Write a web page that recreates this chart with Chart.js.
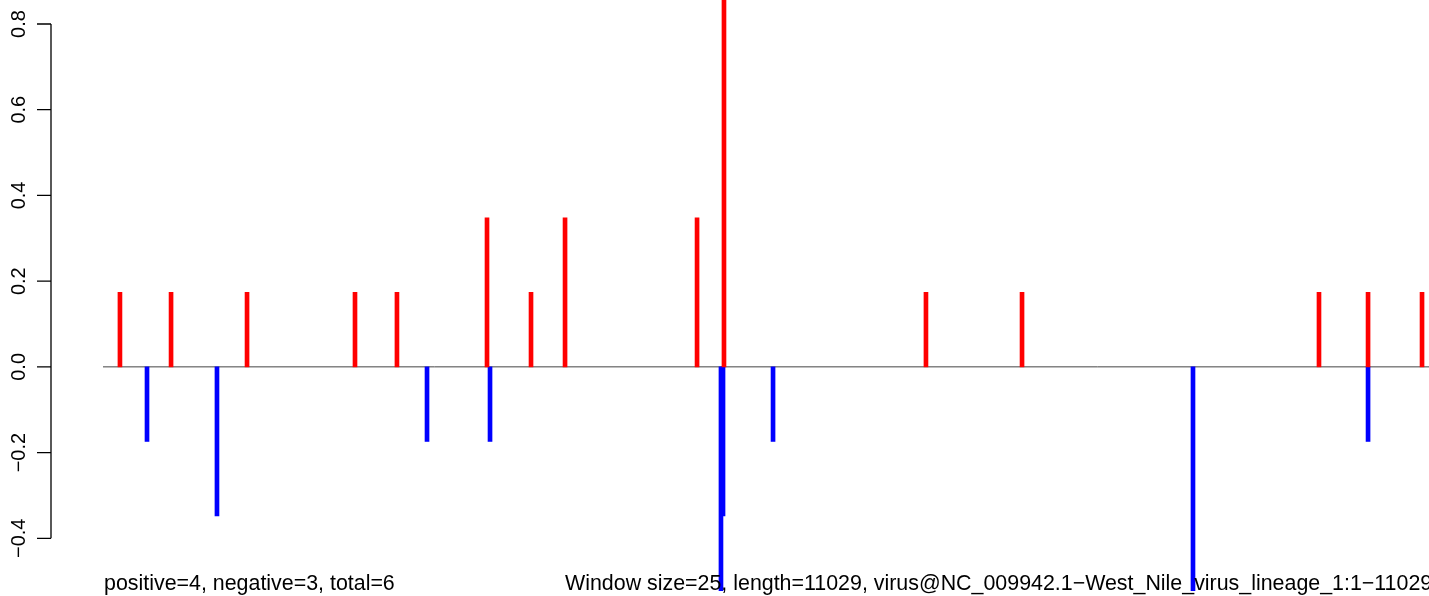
<!DOCTYPE html>
<html>
<head>
<meta charset="utf-8">
<script src="https://cdn.jsdelivr.net/npm/chart.js@4"></script>
<style>
  body { margin: 0; background: #fff; }
  canvas { display: block; }
</style>
</head>
<body>
<canvas id="myChart" width="1429" height="596"></canvas>
<script>
// positions along the genome (1..11029) and window scores
var redX = [141, 566, 1198, 2096, 2445, 3194, 3560, 3843, 4941, 5165, 6845, 7644, 10114, 10522, 10971];
var redY = [0.174, 0.174, 0.174, 0.174, 0.174, 0.348, 0.174, 0.348, 0.348, 0.87, 0.174, 0.174, 0.174, 0.174, 0.174];
var blueX = [366, 948, 2695, 3219, 5140, 5157, 5573, 9066, 10522];
var blueY = [-0.174, -0.348, -0.174, -0.174, -0.522, -0.348, -0.174, -0.522, -0.174];

var yTicks = [-0.4, -0.2, 0, 0.2, 0.4, 0.6, 0.8];
var yTickLabels = ['\u22120.4', '\u22120.2', '0.0', '0.2', '0.4', '0.6', '0.8'];

var leftNote = 'positive=4, negative=3, total=6';
var rightNote = 'Window size=25, length=11029, virus@NC_009942.1\u2212West_Nile_virus_lineage_1:1\u221211029';

function toPoints(xs, ys) {
    var pts = [];
    for (var i = 0; i < xs.length; i++) {
        pts.push({ x: xs[i], y: ys[i] });
    }
    return pts;
}

var TICK_FONT = '20px "Liberation Sans", Arial, sans-serif';
var NOTE_FONT = '21.4px "Liberation Sans", Arial, sans-serif';

var rPlot = {
    id: 'rPlot',
    beforeDatasetsDraw: function (chart) {
        var ctx = chart.ctx;
        var y0 = chart.scales.y.getPixelForValue(0);
        ctx.save();
        ctx.strokeStyle = '#444444';
        ctx.lineWidth = 1;
        ctx.beginPath();
        ctx.moveTo(chart.chartArea.left, y0);
        ctx.lineTo(chart.chartArea.right, y0);
        ctx.stroke();
        ctx.restore();
    },
    afterDraw: function (chart) {
        var ctx = chart.ctx;
        var ys = chart.scales.y;
        var axisX = 51;
        ctx.save();
        ctx.strokeStyle = '#000';
        ctx.lineWidth = 1.3;
        ctx.beginPath();
        ctx.moveTo(axisX, ys.getPixelForValue(yTicks[0]));
        ctx.lineTo(axisX, ys.getPixelForValue(yTicks[yTicks.length - 1]));
        for (var i = 0; i < yTicks.length; i++) {
            var py = ys.getPixelForValue(yTicks[i]);
            ctx.moveTo(37, py);
            ctx.lineTo(axisX, py);
        }
        ctx.stroke();

        ctx.fillStyle = '#000';
        ctx.font = TICK_FONT;
        for (var j = 0; j < yTicks.length; j++) {
            ctx.save();
            ctx.translate(24.5, ys.getPixelForValue(yTicks[j]));
            ctx.rotate(-Math.PI / 2);
            ctx.textAlign = 'center';
            ctx.textBaseline = 'alphabetic';
            ctx.fillText(yTickLabels[j], 0, 0);
            ctx.restore();
        }

        ctx.font = NOTE_FONT;
        ctx.textAlign = 'left';
        ctx.textBaseline = 'alphabetic';
        ctx.fillText(leftNote, 104, 590);
        ctx.fillText(rightNote, 565, 590);
        ctx.restore();
    }
};

var ctx = document.getElementById('myChart').getContext('2d');
var mychart = new Chart(ctx, {
    type: 'bar',
    data: {
        datasets: [{
            label: 'positive',
            data: toPoints(redX, redY),
            backgroundColor: '#ff0000',
            borderWidth: 0,
            barThickness: 4,
            grouped: false
        }, {
            label: 'negative',
            data: toPoints(blueX, blueY),
            backgroundColor: '#0000ff',
            borderWidth: 0,
            barThickness: 4,
            grouped: false
        }]
    },
    options: {
        responsive: false,
        animation: false,
        devicePixelRatio: 1,
        layout: { padding: { left: 103, right: 0, top: 0, bottom: 0 } },
        plugins: {
            legend: { display: false },
            tooltip: { enabled: false }
        },
        scales: {
            x: {
                type: 'linear',
                display: false,
                offset: false,
                min: 0,
                max: 11029
            },
            y: {
                type: 'linear',
                display: false,
                min: -0.5346,
                max: 0.856
            }
        }
    },
    plugins: [rPlot]
});
</script>
</body>
</html>
